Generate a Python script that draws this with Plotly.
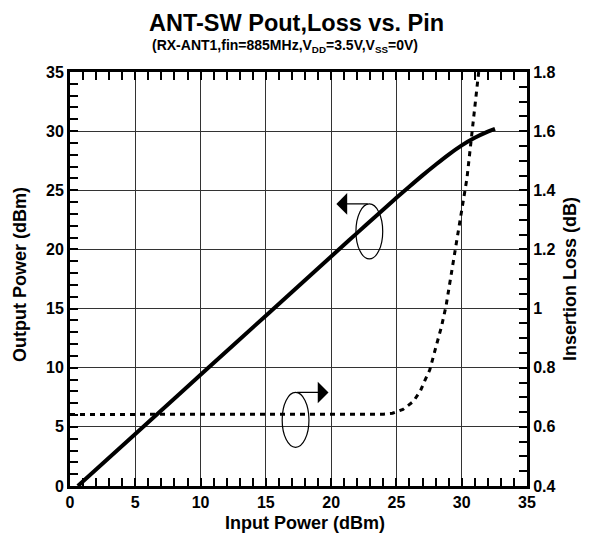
import plotly.graph_objects as go

# ---- data ----
pin_pout = [0.6, 5, 10, 15, 20, 22, 24, 25, 26, 27, 28, 29, 30, 31, 32, 32.55]
pout = [0, 4.4, 9.4, 14.4, 19.4, 21.4, 23.38, 24.36, 25.32, 26.26, 27.16, 28.02, 28.8, 29.44, 29.96, 30.2]

pin_loss = [0, 24.0, 24.7, 25.5, 26.3, 26.85, 27.2, 27.55, 28.0, 28.45, 28.8, 29.2, 29.5,
            29.8, 30.1, 30.4, 30.7, 30.9, 31.1, 31.3]
loss = [0.642, 0.643, 0.646, 0.659, 0.686, 0.723, 0.759, 0.792, 0.866, 0.939, 1.009, 1.116, 1.20,
        1.29, 1.367, 1.44, 1.56, 1.64, 1.70, 1.80]

x_ticks = [0, 5, 10, 15, 20, 25, 30, 35]
y_ticks = [0, 5, 10, 15, 20, 25, 30, 35]
y2_ticks = [0.4, 0.6, 0.8, 1.0, 1.2, 1.4, 1.6, 1.8]
y2_labels = ["0.4", "0.6", "0.8", "1", "1.2", "1.4", "1.6", "1.8"]

title = "ANT-SW Pout,Loss vs. Pin"
subtitle = "(RX-ANT1,fin=885MHz,V<sub>DD</sub>=3.5V,V<sub>SS</sub>=0V)"
x_title = "Input Power (dBm)"
y_title = "Output Power (dBm)"
y2_title = "Insertion Loss (dB)"

FONT = "Arial, 'Liberation Sans', sans-serif"
TICKFONT = dict(family=FONT, size=16, color="black", weight="bold")
TITLEFONT = dict(family=FONT, size=18, color="black", weight="bold")

fig = go.Figure()
fig.add_trace(go.Scatter(x=pin_pout, y=pout, mode="lines", line=dict(color="black", width=4),
                         line_shape="spline", showlegend=False))
fig.add_trace(go.Scatter(x=pin_loss, y=loss, mode="lines", yaxis="y2",
                         line=dict(color="black", width=3, dash="5px,5px"),
                         showlegend=False))

axis_common = dict(
    showline=True, linecolor="black", linewidth=3, automargin=False,
    ticks="inside", ticklen=8, tickwidth=2, tickcolor="black",
    gridcolor="#333", gridwidth=1,
    zeroline=False, tickfont=TICKFONT,
)
minor_common = dict(ticks="inside", ticklen=8, tickwidth=2, tickcolor="black", showgrid=False)

# the page body adds an 8px offset, so the figure is 8px smaller and margins shifted
fig.update_layout(
    width=583, height=532,
    margin=dict(l=62, r=64, t=64, b=54),
    paper_bgcolor="white", plot_bgcolor="white",
    font=dict(family=FONT, color="black"),
    xaxis=dict(range=[0, 35], tickvals=x_ticks, mirror="allticks", showgrid=True,
               minor=dict(dtick=1, **minor_common), **axis_common),
    yaxis=dict(range=[0, 35], tickvals=y_ticks, showgrid=True,
               minor=dict(dtick=1, **minor_common), **axis_common),
    yaxis2=dict(range=[0.4, 1.8], overlaying="y", side="right", tickvals=y2_ticks, ticktext=y2_labels,
                showgrid=False, minor=dict(dtick=0.05, **minor_common), **axis_common),
)

fig.add_annotation(text=title, xref="paper", yref="paper", x=0.495, y=1.1546, showarrow=False,
                   xanchor="center", yanchor="top",
                   font=dict(family=FONT, size=23.5, color="black", weight="bold"))
fig.add_annotation(text=subtitle, xref="paper", yref="paper", x=0.47, y=1.064, showarrow=False,
                   xanchor="center", yanchor="middle",
                   font=dict(family=FONT, size=14, color="black", weight="bold"))
fig.add_annotation(text=x_title, xref="paper", yref="paper", x=0.514, y=-0.089, showarrow=False,
                   xanchor="center", yanchor="middle", font=TITLEFONT)
fig.add_annotation(text=y_title, xref="paper", yref="paper", x=-0.109, y=0.51, showarrow=False,
                   xanchor="center", yanchor="middle", textangle=-90, font=TITLEFONT)
fig.add_annotation(text=y2_title, xref="paper", yref="paper", x=1.094, y=0.5, showarrow=False,
                   xanchor="center", yanchor="middle", textangle=-90, font=TITLEFONT)

# ellipses marking which curve uses which axis
fig.add_shape(type="circle", xref="x", yref="y", x0=21.9, x1=23.95, y0=19.2, y1=23.85,
              line=dict(color="black", width=1.2))
fig.add_shape(type="circle", xref="x", yref="y", x0=16.25, x1=18.3, y0=3.27, y1=7.91,
              line=dict(color="black", width=1.2))
# arrows
fig.add_annotation(x=20.4, y=23.85, ax=22.92, ay=23.85, xref="x", yref="y", axref="x", ayref="y",
                   text="", showarrow=True, arrowhead=1, arrowsize=3, arrowwidth=1.2, arrowcolor="black")
fig.add_annotation(x=19.8, y=7.91, ax=17.28, ay=7.91, xref="x", yref="y", axref="x", ayref="y",
                   text="", showarrow=True, arrowhead=1, arrowsize=3, arrowwidth=1.2, arrowcolor="black")

fig.write_html("out.html")
